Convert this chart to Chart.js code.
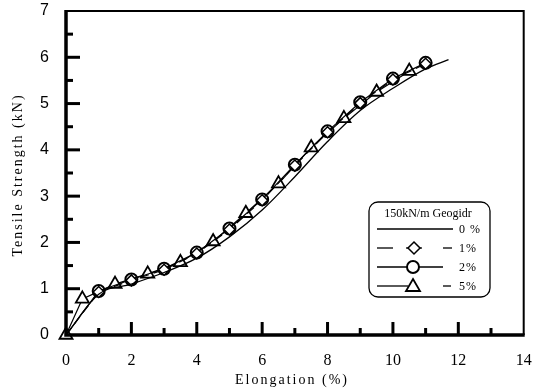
<!DOCTYPE html>
<html>
<head>
<meta charset="utf-8">
<script src="https://cdn.jsdelivr.net/npm/chart.js@4.4.0/dist/chart.umd.min.js"></script>
<style>
html, body { margin: 0; padding: 0; background: #fff; }
#wrap { width: 533px; height: 392px; }
</style>
</head>
<body>
<div id="wrap"><canvas id="tensileChart" width="533" height="392"></canvas></div>
<script>
// データ
const elong0 = [0, 1, 2, 3, 4, 5, 6, 7, 8, 9, 10, 11, 11.7];
const strength0 = [0, 0.88, 1.1, 1.35, 1.66, 2.12, 2.7, 3.42, 4.18, 4.85, 5.33, 5.75, 5.95];

const elong1 = [0, 1, 2, 3, 4, 5, 6, 7, 8, 9, 10, 11];
const strength1 = [0, 0.93, 1.18, 1.41, 1.76, 2.28, 2.91, 3.66, 4.38, 5.01, 5.52, 5.86];

const elong2 = [0, 1, 2, 3, 4, 5, 6, 7, 8, 9, 10, 11];
const strength2 = [0, 0.95, 1.2, 1.43, 1.78, 2.3, 2.93, 3.68, 4.4, 5.03, 5.54, 5.88];

const elong5 = [0, 0.5, 1.5, 2.5, 3.5, 4.5, 5.5, 6.5, 7.5, 8.5, 9.5, 10.5];
const strength5 = [0, 0.78, 1.1, 1.32, 1.57, 2.02, 2.63, 3.27, 4.05, 4.68, 5.25, 5.7];

const legendTitle = '150kN/m Geogidr';
const seriesLabels = ['0 %', '1%', '2%', '5%'];

const xTitle = 'Elongation (%)';
const yTitle = 'Tensile Strength (kN)';

const SERIF = "'Liberation Serif', 'Times New Roman', serif";
const SANS = "'Liberation Sans', Arial, sans-serif";

function toPoints(xs, ys) {
    return xs.map((x, i) => ({ x: x, y: ys[i] }));
}

// 原点にはマーカーを描かない
function radiiSkipOrigin(xs, r) {
    return xs.map(x => (x === 0 ? 0 : r));
}

// 枠線と内向きの目盛り
const framePlugin = {
    id: 'frameTicks',
    afterDraw(chart) {
        const ctx = chart.ctx;
        const a = chart.chartArea;
        const xs = chart.scales.x;
        const ys = chart.scales.y;
        ctx.save();
        ctx.strokeStyle = '#000';
        ctx.lineCap = 'butt';

        // 目盛り
        ctx.lineWidth = 3;
        for (let v = 1; v < 14; v++) {
            const px = xs.getPixelForValue(v);
            const len = v % 2 === 0 ? 13 : 7;
            ctx.beginPath();
            ctx.moveTo(px, a.bottom);
            ctx.lineTo(px, a.bottom - len);
            ctx.stroke();
        }
        for (let v = 0.5; v < 7; v += 0.5) {
            const py = ys.getPixelForValue(v);
            const len = Number.isInteger(v) ? 14 : 7;
            ctx.beginPath();
            ctx.moveTo(a.left, py);
            ctx.lineTo(a.left + len, py);
            ctx.stroke();
        }

        // 枠
        ctx.lineWidth = 2;
        ctx.beginPath();
        ctx.moveTo(a.left, a.top);
        ctx.lineTo(a.right, a.top);
        ctx.lineTo(a.right, a.bottom);
        ctx.stroke();
        ctx.lineWidth = 3.5;
        ctx.beginPath();
        ctx.moveTo(a.left, a.top - 1);
        ctx.lineTo(a.left, a.bottom);
        ctx.lineTo(a.right + 1, a.bottom);
        ctx.stroke();

        // 軸タイトル
        ctx.fillStyle = '#000';
        ctx.font = '14px ' + SERIF;
        ctx.letterSpacing = '2px';
        ctx.textAlign = 'center';
        ctx.textBaseline = 'middle';
        ctx.fillText(xTitle, 292, 380);
        ctx.translate(18, 175);
        ctx.rotate(-Math.PI / 2);
        ctx.fillText(yTitle, 0, 0);
        ctx.restore();
    }
};

// 凡例ボックス
const legendPlugin = {
    id: 'boxLegend',
    afterDraw(chart) {
        const ctx = chart.ctx;
        const left = 369, top = 202, right = 490, bottom = 297;
        ctx.save();
        ctx.strokeStyle = '#000';
        ctx.fillStyle = '#fff';
        ctx.lineWidth = 1.3;
        ctx.beginPath();
        ctx.roundRect(left, top, right - left, bottom - top, 9);
        ctx.fill();
        ctx.stroke();

        ctx.fillStyle = '#000';
        ctx.font = '12px ' + SERIF;
        ctx.textAlign = 'center';
        ctx.textBaseline = 'middle';
        ctx.fillText(legendTitle, 428, 214);

        const rows = [229, 248, 267, 286];
        const seg = (x1, x2, y) => {
            ctx.beginPath();
            ctx.moveTo(x1, y);
            ctx.lineTo(x2, y);
            ctx.stroke();
        };
        ctx.lineWidth = 1.3;
        // 0 %
        seg(377, 453, rows[0]);
        // 1%
        seg(377, 393, rows[1]);
        seg(406, 422, rows[1]);
        seg(443, 452, rows[1]);
        ctx.lineWidth = 1.5;
        ctx.beginPath();
        ctx.moveTo(414, rows[1] - 6);
        ctx.lineTo(420, rows[1]);
        ctx.lineTo(414, rows[1] + 6);
        ctx.lineTo(408, rows[1]);
        ctx.closePath();
        ctx.fillStyle = '#fff';
        ctx.fill();
        ctx.stroke();
        // 2%
        ctx.lineWidth = 1.3;
        seg(377, 443, rows[2]);
        ctx.lineWidth = 2;
        ctx.beginPath();
        ctx.arc(413, rows[2], 6, 0, Math.PI * 2);
        ctx.fill();
        ctx.stroke();
        // 5%
        ctx.lineWidth = 1.3;
        seg(377, 408, rows[3]);
        seg(443, 451, rows[3]);
        ctx.lineWidth = 1.8;
        ctx.beginPath();
        ctx.moveTo(413, rows[3] - 7);
        ctx.lineTo(420, rows[3] + 5);
        ctx.lineTo(406, rows[3] + 5);
        ctx.closePath();
        ctx.fill();
        ctx.stroke();

        ctx.fillStyle = '#000';
        ctx.font = '12px ' + SERIF;
        ctx.textAlign = 'left';
        ctx.letterSpacing = '1px';
        seriesLabels.forEach((t, i) => ctx.fillText(t, 459, rows[i] + 1));
        ctx.restore();
    }
};

const ctx = document.getElementById('tensileChart').getContext('2d');

const chart = new Chart(ctx, {
    type: 'line',
    data: {
        datasets: [
            {
                label: seriesLabels[0],
                data: toPoints(elong0, strength0),
                borderColor: '#000',
                borderWidth: 1.3,
                pointRadius: 0,
                cubicInterpolationMode: 'monotone',
                fill: false,
                clip: false
            },
            {
                label: seriesLabels[1],
                data: toPoints(elong1, strength1),
                borderColor: '#000',
                borderWidth: 1.2,
                borderDash: [9, 5],
                pointStyle: 'rectRot',
                pointRadius: radiiSkipOrigin(elong1, 5.5),
                pointBorderWidth: 1.5,
                pointBorderColor: '#000',
                pointBackgroundColor: '#fff',
                tension: 0,
                fill: false,
                clip: false
            },
            {
                label: seriesLabels[2],
                data: toPoints(elong2, strength2),
                borderColor: '#000',
                borderWidth: 1.2,
                pointStyle: 'circle',
                pointRadius: radiiSkipOrigin(elong2, 6),
                pointBorderWidth: 2,
                pointBorderColor: '#000',
                pointBackgroundColor: 'rgba(255,255,255,0)',
                tension: 0,
                fill: false,
                clip: false
            },
            {
                label: seriesLabels[3],
                data: toPoints(elong5, strength5),
                borderColor: '#000',
                borderWidth: 1.2,
                pointStyle: 'triangle',
                pointRadius: 7.5,
                pointBorderWidth: 1.8,
                pointBorderColor: '#000',
                pointBackgroundColor: '#fff',
                tension: 0,
                fill: false,
                clip: false
            }
        ]
    },
    options: {
        responsive: false,
        animation: false,
        devicePixelRatio: 1,
        layout: {
            padding: { top: 11, right: 6, left: 0, bottom: 0 }
        },
        plugins: {
            legend: { display: false },
            tooltip: { enabled: false }
        },
        scales: {
            x: {
                type: 'linear',
                min: 0,
                max: 14,
                border: { display: false },
                grid: { display: false, drawTicks: false },
                ticks: {
                    stepSize: 2,
                    padding: 16,
                    color: '#000',
                    font: { family: SERIF, size: 16 },
                    maxRotation: 0
                },
                afterFit(scale) {
                    scale.height = 57;
                    scale.paddingLeft = 0;
                    scale.paddingRight = 0;
                }
            },
            y: {
                min: 0,
                max: 7,
                border: { display: false },
                grid: { display: false, drawTicks: false },
                ticks: {
                    stepSize: 1,
                    padding: 17,
                    color: '#000',
                    font: { family: SANS, size: 16 }
                },
                afterFit(scale) {
                    scale.width = 66;
                    scale.paddingTop = 0;
                    scale.paddingBottom = 0;
                }
            }
        }
    },
    plugins: [framePlugin, legendPlugin]
});
</script>
</body>
</html>
